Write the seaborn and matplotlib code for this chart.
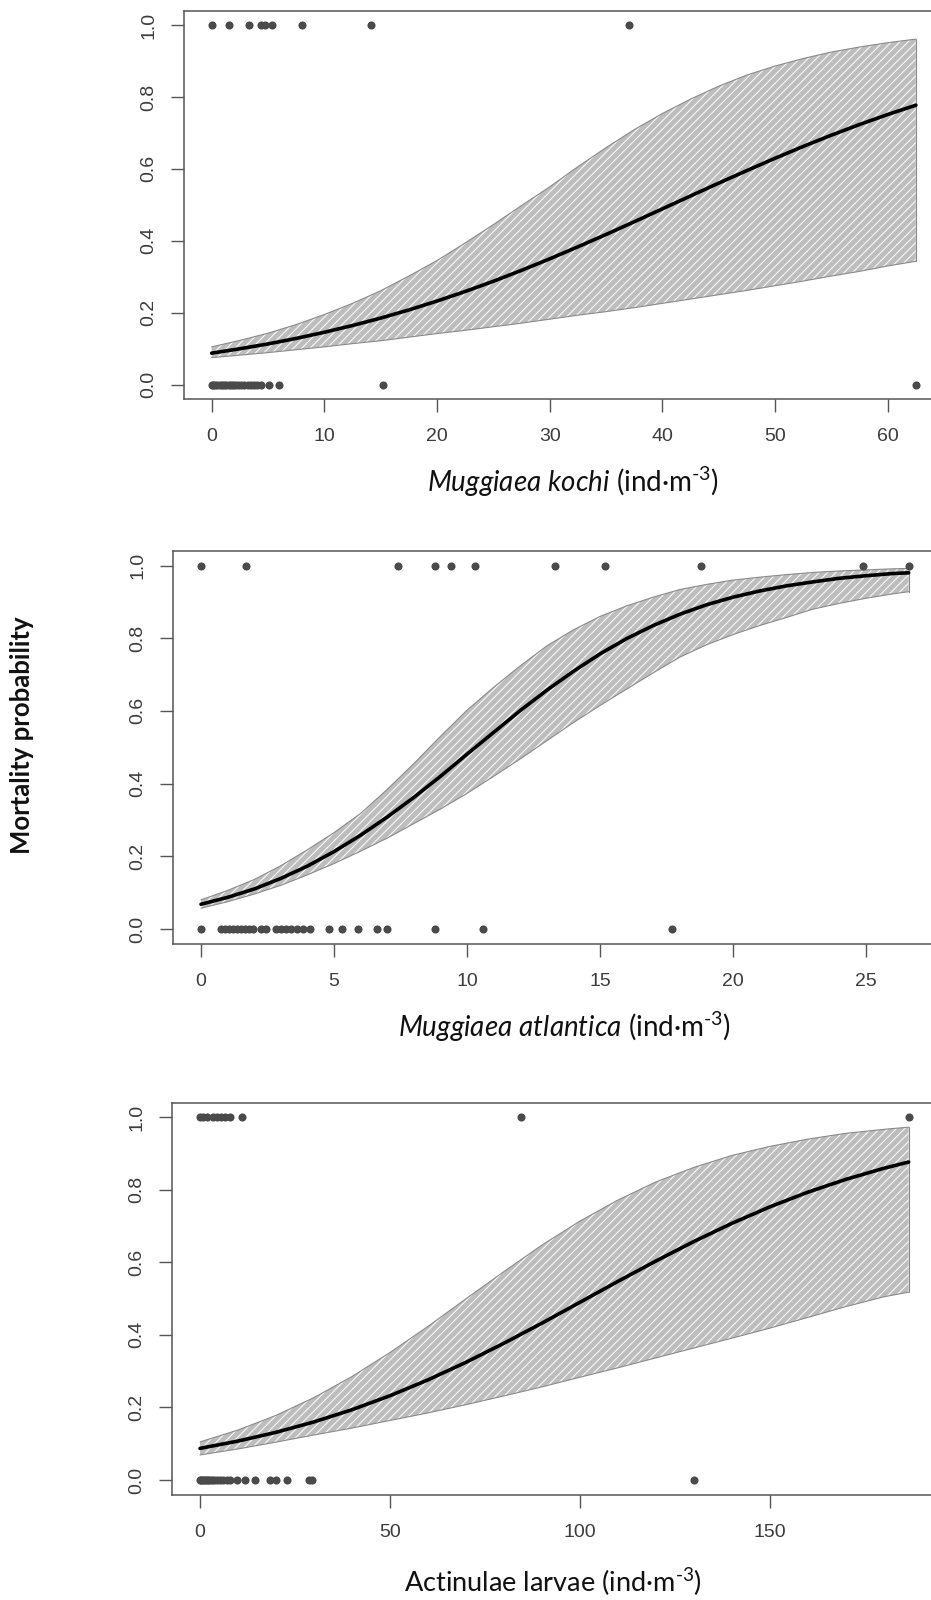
import numpy as np
import pandas as pd
import matplotlib
matplotlib.use("Agg")
import matplotlib.pyplot as plt
import seaborn as sns

# ---------------- Muggiaea kochi ----------------
kochi_dead = [0.0, 1.5, 3.3, 4.4, 4.75, 5.35, 8.0, 14.1, 37.0]
kochi_alive = [0.0, 0.15, 0.3, 0.5, 0.7, 0.9, 1.1, 1.3, 1.5, 1.7, 1.9, 2.1,
               2.3, 2.6, 2.9, 3.2, 3.5, 3.8, 4.0, 4.4, 5.1, 6.0, 15.2, 62.5]
kochi_grid = [0, 2.5, 5, 7.5, 10, 12.5, 15, 17.5, 20, 22.5, 25, 27.5, 30,
              32.5, 35, 37.5, 40, 42.5, 45, 47.5, 50, 52.5, 55, 57.5, 60, 62.5]
kochi_fit = [0.0875, 0.0997, 0.1132, 0.1285, 0.1456, 0.1644, 0.185, 0.2077,
             0.2324, 0.259, 0.2874, 0.3178, 0.3498, 0.3832, 0.4175, 0.4529,
             0.4888, 0.5247, 0.5604, 0.5953, 0.6295, 0.6624, 0.6938, 0.7234,
             0.7512, 0.7772]
kochi_upper = [0.105, 0.123, 0.143, 0.167, 0.195, 0.226, 0.261, 0.302, 0.345,
               0.394, 0.445, 0.498, 0.55, 0.606, 0.659, 0.709, 0.754, 0.794,
               0.83, 0.861, 0.886, 0.907, 0.925, 0.939, 0.951, 0.961]
kochi_lower = [0.075, 0.082, 0.089, 0.097, 0.105, 0.114, 0.122, 0.132, 0.142,
               0.151, 0.161, 0.171, 0.182, 0.193, 0.203, 0.214, 0.226, 0.238,
               0.25, 0.262, 0.275, 0.288, 0.302, 0.315, 0.33, 0.343]
kochi_ticks = [0, 10, 20, 30, 40, 50, 60]

# ---------------- Muggiaea atlantica ----------------
atl_dead = [0.0, 1.7, 7.4, 8.8, 9.4, 10.3, 13.3, 15.2, 18.8, 24.9, 26.6]
atl_alive = [0.0, 0.75, 0.9, 1.05, 1.2, 1.35, 1.5, 1.65, 1.8, 1.95, 2.25, 2.45,
             2.8, 3.0, 3.2, 3.4, 3.6, 3.85, 4.1, 4.8, 5.3, 5.9, 6.6, 7.0,
             8.8, 10.6, 17.7]
atl_grid = [0, 1, 2, 3, 4, 5, 6, 7, 8, 9, 10, 11, 12, 13, 14, 15, 16, 17, 18,
            19, 20, 21, 22, 23, 24, 25, 26, 26.6]
atl_fit = [0.068, 0.087, 0.11, 0.139, 0.173, 0.213, 0.258, 0.308, 0.362,
           0.42, 0.481, 0.541, 0.601, 0.657, 0.709, 0.757, 0.799, 0.835, 0.866,
           0.892, 0.913, 0.93, 0.944, 0.955, 0.965, 0.972, 0.978, 0.98]
atl_upper = [0.08, 0.106, 0.136, 0.174, 0.218, 0.265, 0.318, 0.384, 0.455,
             0.53, 0.602, 0.665, 0.724, 0.779, 0.823, 0.86, 0.889, 0.913,
             0.934, 0.948, 0.96, 0.968, 0.975, 0.981, 0.985, 0.988, 0.991,
             0.992]
atl_lower = [0.057, 0.075, 0.096, 0.12, 0.149, 0.18, 0.214, 0.25, 0.29, 0.33,
             0.373, 0.42, 0.468, 0.518, 0.568, 0.615, 0.66, 0.705, 0.748,
             0.782, 0.81, 0.835, 0.857, 0.88, 0.896, 0.91, 0.922, 0.928]
atl_ticks = [0, 5, 10, 15, 20, 25]

# ---------------- Actinulae larvae ----------------
act_dead = [0.0, 0.8, 1.8, 3.5, 4.5, 5.5, 6.5, 8.0, 11.0, 84.5, 186.6]
act_alive = [0.0, 0.3, 0.6, 1.0, 1.4, 1.8, 2.2, 2.7, 3.2, 3.8, 4.5, 5.2, 6.0,
             7.0, 8.0, 9.8, 11.8, 14.5, 18.3, 20.0, 22.8, 28.6, 29.6, 130.0]
act_grid = [0, 10, 20, 30, 40, 50, 60, 70, 80, 90, 100, 110, 120, 130, 140,
            150, 160, 170, 180, 186.6]
act_fit = [0.0871, 0.1072, 0.1313, 0.16, 0.1935, 0.2321, 0.2757, 0.3241,
           0.3766, 0.4319, 0.4893, 0.5469, 0.603, 0.6568, 0.7068, 0.7523,
           0.7927, 0.828, 0.8585, 0.876]
act_upper = [0.105, 0.1376, 0.178, 0.227, 0.285, 0.351, 0.423, 0.499, 0.574,
             0.647, 0.713, 0.771, 0.821, 0.861, 0.894, 0.919, 0.939, 0.955,
             0.966, 0.972]
act_lower = [0.069, 0.0855, 0.1043, 0.124, 0.143, 0.164, 0.1847, 0.2075,
             0.2315, 0.2564, 0.283, 0.309, 0.3363, 0.3635, 0.3906, 0.4182,
             0.4477, 0.4775, 0.5045, 0.5175]
act_ticks = [0, 50, 100, 150]

prob_ticks = [0.0, 0.2, 0.4, 0.6, 0.8, 1.0]
prob_labels = ["0.0", "0.2", "0.4", "0.6", "0.8", "1.0"]

sns.set_theme(style="white")
plt.rcParams["font.family"] = ["Liberation Sans", "DejaVu Sans"]
plt.rcParams["mathtext.fontset"] = "custom"
plt.rcParams["mathtext.rm"] = "Lato"
plt.rcParams["mathtext.it"] = "Lato:italic"
plt.rcParams["hatch.linewidth"] = 0.7

W, H = 931, 1600
fig = plt.figure(figsize=(W / 100, H / 100), dpi=100)

FRAME = "#555555"
POINT = "#4a4a4a"
BAND = "#bdbdbd"


def panel(box, dead, alive, grid, fit, lower, upper, ticks):
    left, right, top, bottom = box
    ax = fig.add_axes([left / W, 1 - bottom / H, (right - left) / W, (bottom - top) / H])

    pts = pd.DataFrame({
        "x": list(dead) + list(alive),
        "y": [1.0] * len(dead) + [0.0] * len(alive),
    })
    curve = pd.DataFrame({"x": grid, "p": fit})

    # confidence band: grey fill with light diagonal streaks and a thin outline
    ax.fill_between(grid, lower, upper, facecolor=BAND, edgecolor="white",
                    hatch="////", linewidth=0, zorder=1)
    ax.plot(grid, upper, color="#8a8a8a", lw=0.8, zorder=2)
    ax.plot(grid, lower, color="#8a8a8a", lw=0.8, zorder=2)
    ax.plot([grid[-1], grid[-1]], [lower[-1], upper[-1]], color="#8a8a8a",
            lw=0.8, zorder=2)

    sns.lineplot(data=curve, x="x", y="p", color="black", linewidth=2.6,
                 ax=ax, zorder=3, errorbar=None, sort=True)
    sns.scatterplot(data=pts, x="x", y="y", color=POINT, s=34, linewidth=0,
                    ax=ax, zorder=4)

    xmin, xmax = min(pts["x"]), max(pts["x"])
    pad = 0.04 * (xmax - xmin)
    ax.set_xlim(xmin - pad, xmax + pad)
    ax.set_ylim(-0.04, 1.04)
    ax.set_xticks(ticks)
    ax.set_xticklabels([str(t) for t in ticks])
    ax.set_yticks(prob_ticks)
    ax.set_yticklabels(prob_labels, rotation=90, va="center")
    ax.set_xlabel("")
    ax.set_ylabel("")
    ax.tick_params(axis="both", direction="out", length=9.5, width=1.0,
                   color=FRAME, labelcolor="#3c3c3c", labelsize=14,
                   bottom=True, left=True)
    ax.tick_params(axis="x", pad=11.5)
    ax.tick_params(axis="y", pad=9.5)
    for s in ax.spines.values():
        s.set_visible(True)
        s.set_color(FRAME)
        s.set_linewidth(1.1)
    ax.grid(False)
    return ax


panel((183.5, 944.0, 10.7, 399.0), kochi_dead, kochi_alive, kochi_grid,
      kochi_fit, kochi_lower, kochi_upper, kochi_ticks)
panel((172.7, 937.0, 551.0, 943.5), atl_dead, atl_alive, atl_grid,
      atl_fit, atl_lower, atl_upper, atl_ticks)
panel((171.7, 937.0, 1102.5, 1494.5), act_dead, act_alive, act_grid,
      act_fit, act_lower, act_upper, act_ticks)

label_kw = dict(ha="center", va="center", color="#111111",
                family=["Lato", "DejaVu Sans"])
unit = r"(ind·m$^{\text{-}3}$)"
fig.text(573 / W, 1 - 482 / H, r"$\mathit{Muggiaea\ kochi}$ " + unit,
         fontsize=20, **label_kw)
fig.text(564.6 / W, 1 - 1027 / H, r"$\mathit{Muggiaea\ atlantica}$ " + unit,
         fontsize=20, **label_kw)
fig.text(553.4 / W, 1 - 1582 / H, "Actinulae larvae " + unit,
         fontsize=19.5, **label_kw)
fig.text(22.5 / W, 1 - 735 / H, "Mortality probability", rotation=90,
         fontsize=18.5, fontweight="bold", **label_kw)

fig.savefig("out.png", dpi=100, facecolor="white")
